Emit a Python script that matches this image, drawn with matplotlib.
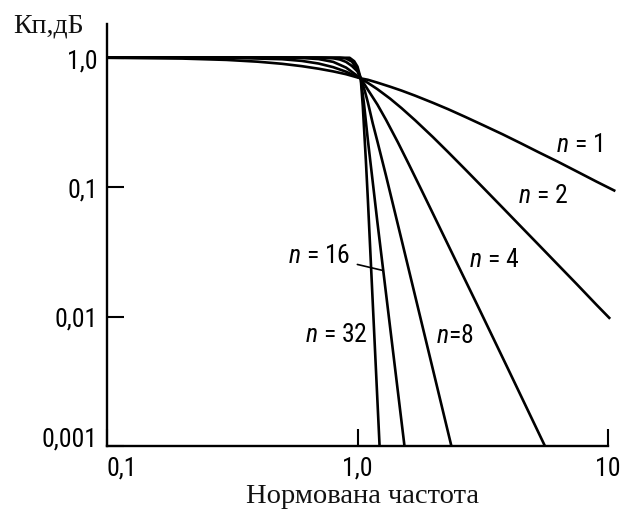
import matplotlib
matplotlib.use("Agg")
import matplotlib.pyplot as plt
from matplotlib import font_manager as fm
from matplotlib.ticker import NullLocator
import numpy as np

# Normalised frequency / gain pairs for Butterworth low-pass filters of order n
freq_n1 = [0.1, 0.2, 0.3, 0.4, 0.5, 0.6, 0.7, 0.8, 0.9, 1.03, 1.1, 1.2, 1.35, 1.5, 1.7,
           2.0, 2.3, 2.7, 3.2, 3.8, 4.5, 5.3, 6.3, 7.5, 9.0, 10.7]
gain_n1 = [0.995, 0.981, 0.958, 0.928, 0.894, 0.857, 0.819, 0.781, 0.743, 0.69, 0.673, 0.640,
           0.595, 0.555, 0.507, 0.447, 0.399, 0.347, 0.298, 0.255, 0.217, 0.185, 0.157,
           0.132, 0.110, 0.093]

freq_n2 = [0.1, 0.3, 0.5, 0.6, 0.7, 0.8, 0.9, 1.03, 1.1, 1.2, 1.35, 1.5, 1.7, 2.0, 2.3,
           2.7, 3.2, 3.8, 4.5, 5.3, 6.3, 7.5, 9.0, 10.2]
gain_n2 = [1.0, 0.996, 0.970, 0.941, 0.898, 0.842, 0.777, 0.69, 0.637, 0.570, 0.481, 0.406,
           0.327, 0.243, 0.186, 0.136, 0.0972, 0.0691, 0.0493, 0.0356, 0.0252, 0.0178,
           0.0123, 0.0096]

freq_n4 = [0.1, 0.5, 0.6, 0.7, 0.8, 0.9, 0.95, 1.03, 1.1, 1.2, 1.3, 1.45, 1.6, 1.8, 2.0,
           2.5, 3.0, 4.0, 5.6]
gain_n4 = [1.0, 0.998, 0.992, 0.972, 0.925, 0.836, 0.775, 0.69, 0.564, 0.434, 0.330, 0.221,
           0.151, 0.0949, 0.0624, 0.0256, 0.0124, 0.0039, 0.001]

freq_n8 = [0.1, 0.7, 0.8, 0.85, 0.9, 0.95, 1.0, 1.03, 1.07, 1.1, 1.15, 1.2, 1.3, 1.5, 2.0, 2.37]
gain_n8 = [1.0, 0.998, 0.986, 0.965, 0.925, 0.86, 0.78, 0.69, 0.55, 0.45, 0.311, 0.226,
           0.122, 0.039, 0.0039, 0.001]

freq_n16 = [0.1, 0.85, 0.9, 0.95, 1.0, 1.03, 1.06, 1.1, 1.15, 1.2, 1.3, 1.54]
gain_n16 = [1.0, 0.997, 0.983, 0.93, 0.80, 0.69, 0.45, 0.23, 0.11, 0.054, 0.015, 0.001]

freq_n32 = [0.1, 0.93, 0.97, 1.0, 1.03, 1.05, 1.08, 1.1, 1.15, 1.225]
gain_n32 = [1.0, 0.995, 0.936, 0.85, 0.69, 0.42, 0.16, 0.08, 0.013, 0.001]

x_ticks = [0.1, 1.0, 10.0]
x_tick_labels = ["0,1", "1,0", "10"]
y_ticks = [0.001, 0.01, 0.1, 1.0]
y_tick_labels = ["0,001", "0,01", "0,1", "1,0"]

x_title = "Нормована частота"
y_title = "Кп,дБ"

# --- fonts ---------------------------------------------------------------
installed = {f.name for f in fm.fontManager.ttflist}
num_family = "Liberation Sans"
for cand in ["Roboto Condensed", "Liberation Sans Narrow", "Arial Narrow", "PT Sans Narrow",
             "Archivo Narrow", "Fira Sans Condensed", "IBM Plex Sans Condensed",
             "Open Sans Condensed"]:
    if cand in installed:
        num_family = cand
        break
serif_family = "Liberation Serif"
plt.rcParams["mathtext.fontset"] = "custom"
plt.rcParams["mathtext.it"] = f"{num_family}:italic"
plt.rcParams["mathtext.rm"] = num_family

num_size = 18.5 if num_family != "Liberation Sans" else 17.5
title_size = 20.5

# --- figure ----------------------------------------------------------------
W, H = 624, 510
fig = plt.figure(figsize=(W / 100, H / 100), dpi=100)
ax = fig.add_axes([107 / W, 63 / H, 501 / W, 422 / H])
ax.set_xscale("log")
ax.set_yscale("log")
ax.set_xlim(0.1, 10.0)
ax.set_ylim(0.001, 10 ** (422 / 129.5 - 3))

curves = [
    (freq_n1, gain_n1),
    (freq_n2, gain_n2),
    (freq_n4, gain_n4),
    (freq_n8, gain_n8),
    (freq_n16, gain_n16),
    (freq_n32, gain_n32),
]
for fr, g in curves:
    ax.plot(fr, g, color="black", lw=1.9, clip_on=False,
            solid_capstyle="butt", solid_joinstyle="round")

for side in ("top", "right"):
    ax.spines[side].set_visible(False)
for side in ("left", "bottom"):
    ax.spines[side].set_linewidth(1.7)
    ax.spines[side].set_color("black")

ax.xaxis.set_minor_locator(NullLocator())
ax.yaxis.set_minor_locator(NullLocator())
ax.set_xticks(x_ticks)
ax.set_xticklabels(x_tick_labels)
ax.set_yticks(y_ticks)
ax.set_yticklabels(y_tick_labels)
ax.tick_params(axis="both", direction="in", length=12, width=1.5, color="black")
ax.tick_params(axis="x", pad=7)
ax.tick_params(axis="y", pad=6.5)
for lab in ax.get_xticklabels() + ax.get_yticklabels():
    lab.set_fontfamily(num_family)
    lab.set_fontsize(num_size)
ax.get_xticklabels()[0].set_horizontalalignment("left")
ax.get_yticklabels()[0].set_verticalalignment("baseline")

# curve labels
lab_kw = dict(fontsize=num_size, family=num_family, color="black", va="baseline")
ax.text(6.19, 0.19, "$n$ = 1", ha="left", **lab_kw)
ax.text(4.37, 0.0766, "$n$ = 2", ha="left", **lab_kw)
ax.text(2.78, 0.0245, "$n$ = 4", ha="left", **lab_kw)
ax.text(2.05, 0.0064, "$n$=8", ha="left", **lab_kw)
ax.text(1.096, 0.00647, "$n$ = 32", ha="right", **lab_kw)

# leader for n = 16 ends on its curve
w_lead = 1.267
g_lead = 10 ** np.interp(np.log10(w_lead), np.log10(freq_n16), np.log10(gain_n16))
ax.annotate("$n$ = 16", xy=(w_lead, g_lead), xytext=(0.938, 0.0296),
            ha="right", va="center", fontsize=num_size, family=num_family,
            arrowprops=dict(arrowstyle="-", lw=1.2, color="black",
                            shrinkA=3, shrinkB=0))

fig.text(13 / W, 1 - 33 / H, y_title, family=serif_family, fontsize=title_size - 0.5,
         color="#111111", ha="left", va="baseline")
fig.text(362 / W, 1 - 503 / H, x_title, family=serif_family, fontsize=title_size,
         color="#111111", ha="center", va="baseline")

fig.savefig("out.png", dpi=100)
